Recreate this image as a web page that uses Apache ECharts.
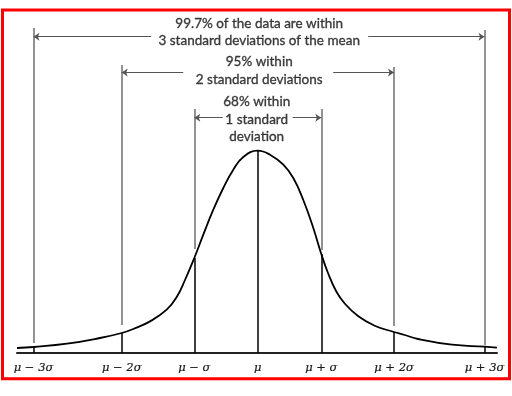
<!DOCTYPE html>
<html><head><meta charset="utf-8">
<script src="https://cdn.jsdelivr.net/npm/echarts@6/dist/echarts.min.js"></script>
<style>html,body{margin:0;padding:0;background:#fff}#c{width:512px;height:396px}</style>
</head><body><div id="c"></div>
<script>
// Curve (x: offset from the mean, y: height above baseline)
const curveX = [-240.7, -224.2, -190.7, -157.7, -136, -124.4, -107.7, -91, -81, -72.7, -63.4, -54.4, -44.4, -34.4, -24.4, -14.4, 0,
                12.3, 25.6, 35.6, 45.6, 55.6, 63.6, 70.3, 78.6, 87, 100.3, 117, 136.3, 147, 160.3, 194.3, 226.8, 239.3];
const curveY = [5, 6, 9.3, 15, 20, 24, 31.6, 43.3, 56, 73, 95, 118.3, 143.3, 165, 183.3, 196, 202.3,
                198.3, 188.3, 175, 153, 125, 99, 80, 61.5, 49.5, 37, 27.3, 21, 18, 14, 8.3, 6.3, 5.3];

// Sigma marker positions and labels
const sigmaPos = [-224.2, -136, -63.4, 0, 63.6, 136.3, 226.8];
const sigmaLabels = ['μ − 3σ', 'μ − 2σ', 'μ − σ', 'μ', 'μ + σ', 'μ + 2σ', 'μ + 3σ'];
const curveAtSigma = [6, 20, 95, 202.3, 99, 21, 6.3];
const guideTop = [325, 288, 244, null, 244, 286, 323];
const guideBottom = [10, 28, 104, null, 103, 27, 8];

// Range arrows (k = 3, 2, 1)
const arrowK = [3, 2, 1];
const arrowY = [316.3, 280.6, 235.3];
const arrowInnerLeft = [-106.5, -74.5, -35];
const arrowInnerRight = [110.5, 75.5, 35];

// Annotation texts
const annotTexts = [
  '99.7% of the data are within\n3 standard deviations of the mean',
  '95% within\n2 standard deviations',
  '68% within\n1 standard\ndeviation'
];
const annotX = [1.5, 1.5, -1];
const annotY = [320.8, 282.3, 233.6];

const curveData = curveX.map((x, i) => [x, curveY[i]]);
const darkSegs = sigmaPos.map((x, i) => ({coords: [[x, 0], [x, curveAtSigma[i]]]}));
const graySegs = sigmaPos.map((x, i) => guideTop[i] == null ? null : ({coords: [[x, guideBottom[i]], [x, guideTop[i]]]})).filter(Boolean);
const arrowSegs = [];
arrowK.forEach((k, i) => {
  arrowSegs.push({coords: [[arrowInnerLeft[i], arrowY[i]], [sigmaPos[3 - k], arrowY[i]]]});
  arrowSegs.push({coords: [[arrowInnerRight[i], arrowY[i]], [sigmaPos[3 + k], arrowY[i]]]});
});
const annotData = annotTexts.map((t, i) => ({value: [annotX[i], annotY[i]], name: t}));

const chart = echarts.init(document.getElementById('c'), null, {renderer: 'canvas'});
chart.setOption({
  animation: false,
  backgroundColor: '#fff',
  grid: {left: 17, right: 15, top: 28, bottom: 43, containLabel: false, outerBoundsMode: 'none'},
  xAxis: {
    type: 'value', min: -240.7, max: 239.3,
    splitLine: {show: false},
    axisTick: {show: false},
    axisLine: {show: true, lineStyle: {color: '#222', width: 2}},
    axisLabel: {
      show: true,
      customValues: sigmaPos,
      formatter: v => { const i = sigmaPos.indexOf(v); return i >= 0 ? sigmaLabels[i] : ''; },
      fontFamily: 'DejaVu Serif', fontStyle: 'italic', fontSize: 11.5, color: '#1a1a1a', margin: 9,
      textBorderColor: '#1a1a1a', textBorderWidth: 0.2
    }
  },
  yAxis: {type: 'value', min: 0, max: 325, show: false, splitLine: {show: false}},
  graphic: [{
    type: 'rect', silent: true, z: 100,
    shape: {x: 2.5, y: 10, width: 507, height: 368.7},
    style: {fill: 'none', stroke: '#ff0000', lineWidth: 3}
  }],
  series: [
    {
      type: 'lines', coordinateSystem: 'cartesian2d', polyline: false,
      data: graySegs, symbol: 'none',
      lineStyle: {color: '#6e6e6e', width: 1.5, opacity: 1}
    },
    {
      type: 'lines', coordinateSystem: 'cartesian2d',
      data: darkSegs, symbol: 'none',
      lineStyle: {color: '#111', width: 1.6, opacity: 1}
    },
    {
      type: 'lines', coordinateSystem: 'cartesian2d',
      data: arrowSegs, symbol: ['none', 'arrow'], symbolSize: [0, 6],
      lineStyle: {color: '#555', width: 1.2, opacity: 1}
    },
    {
      type: 'line', data: curveData, smooth: 0.45, showSymbol: false, symbol: 'none',
      lineStyle: {color: '#000', width: 1.8}
    },
    {
      type: 'scatter', data: annotData, symbolSize: 1,
      itemStyle: {color: 'rgba(0,0,0,0)'},
      label: {
        show: true, position: 'inside', formatter: p => p.name,
        fontFamily: 'Lato', fontSize: 13.5, lineHeight: 17.5, color: '#111', align: 'center', verticalAlign: 'middle',
        textBorderColor: '#111', textBorderWidth: 0.35
      }
    }
  ]
});
</script></body></html>
